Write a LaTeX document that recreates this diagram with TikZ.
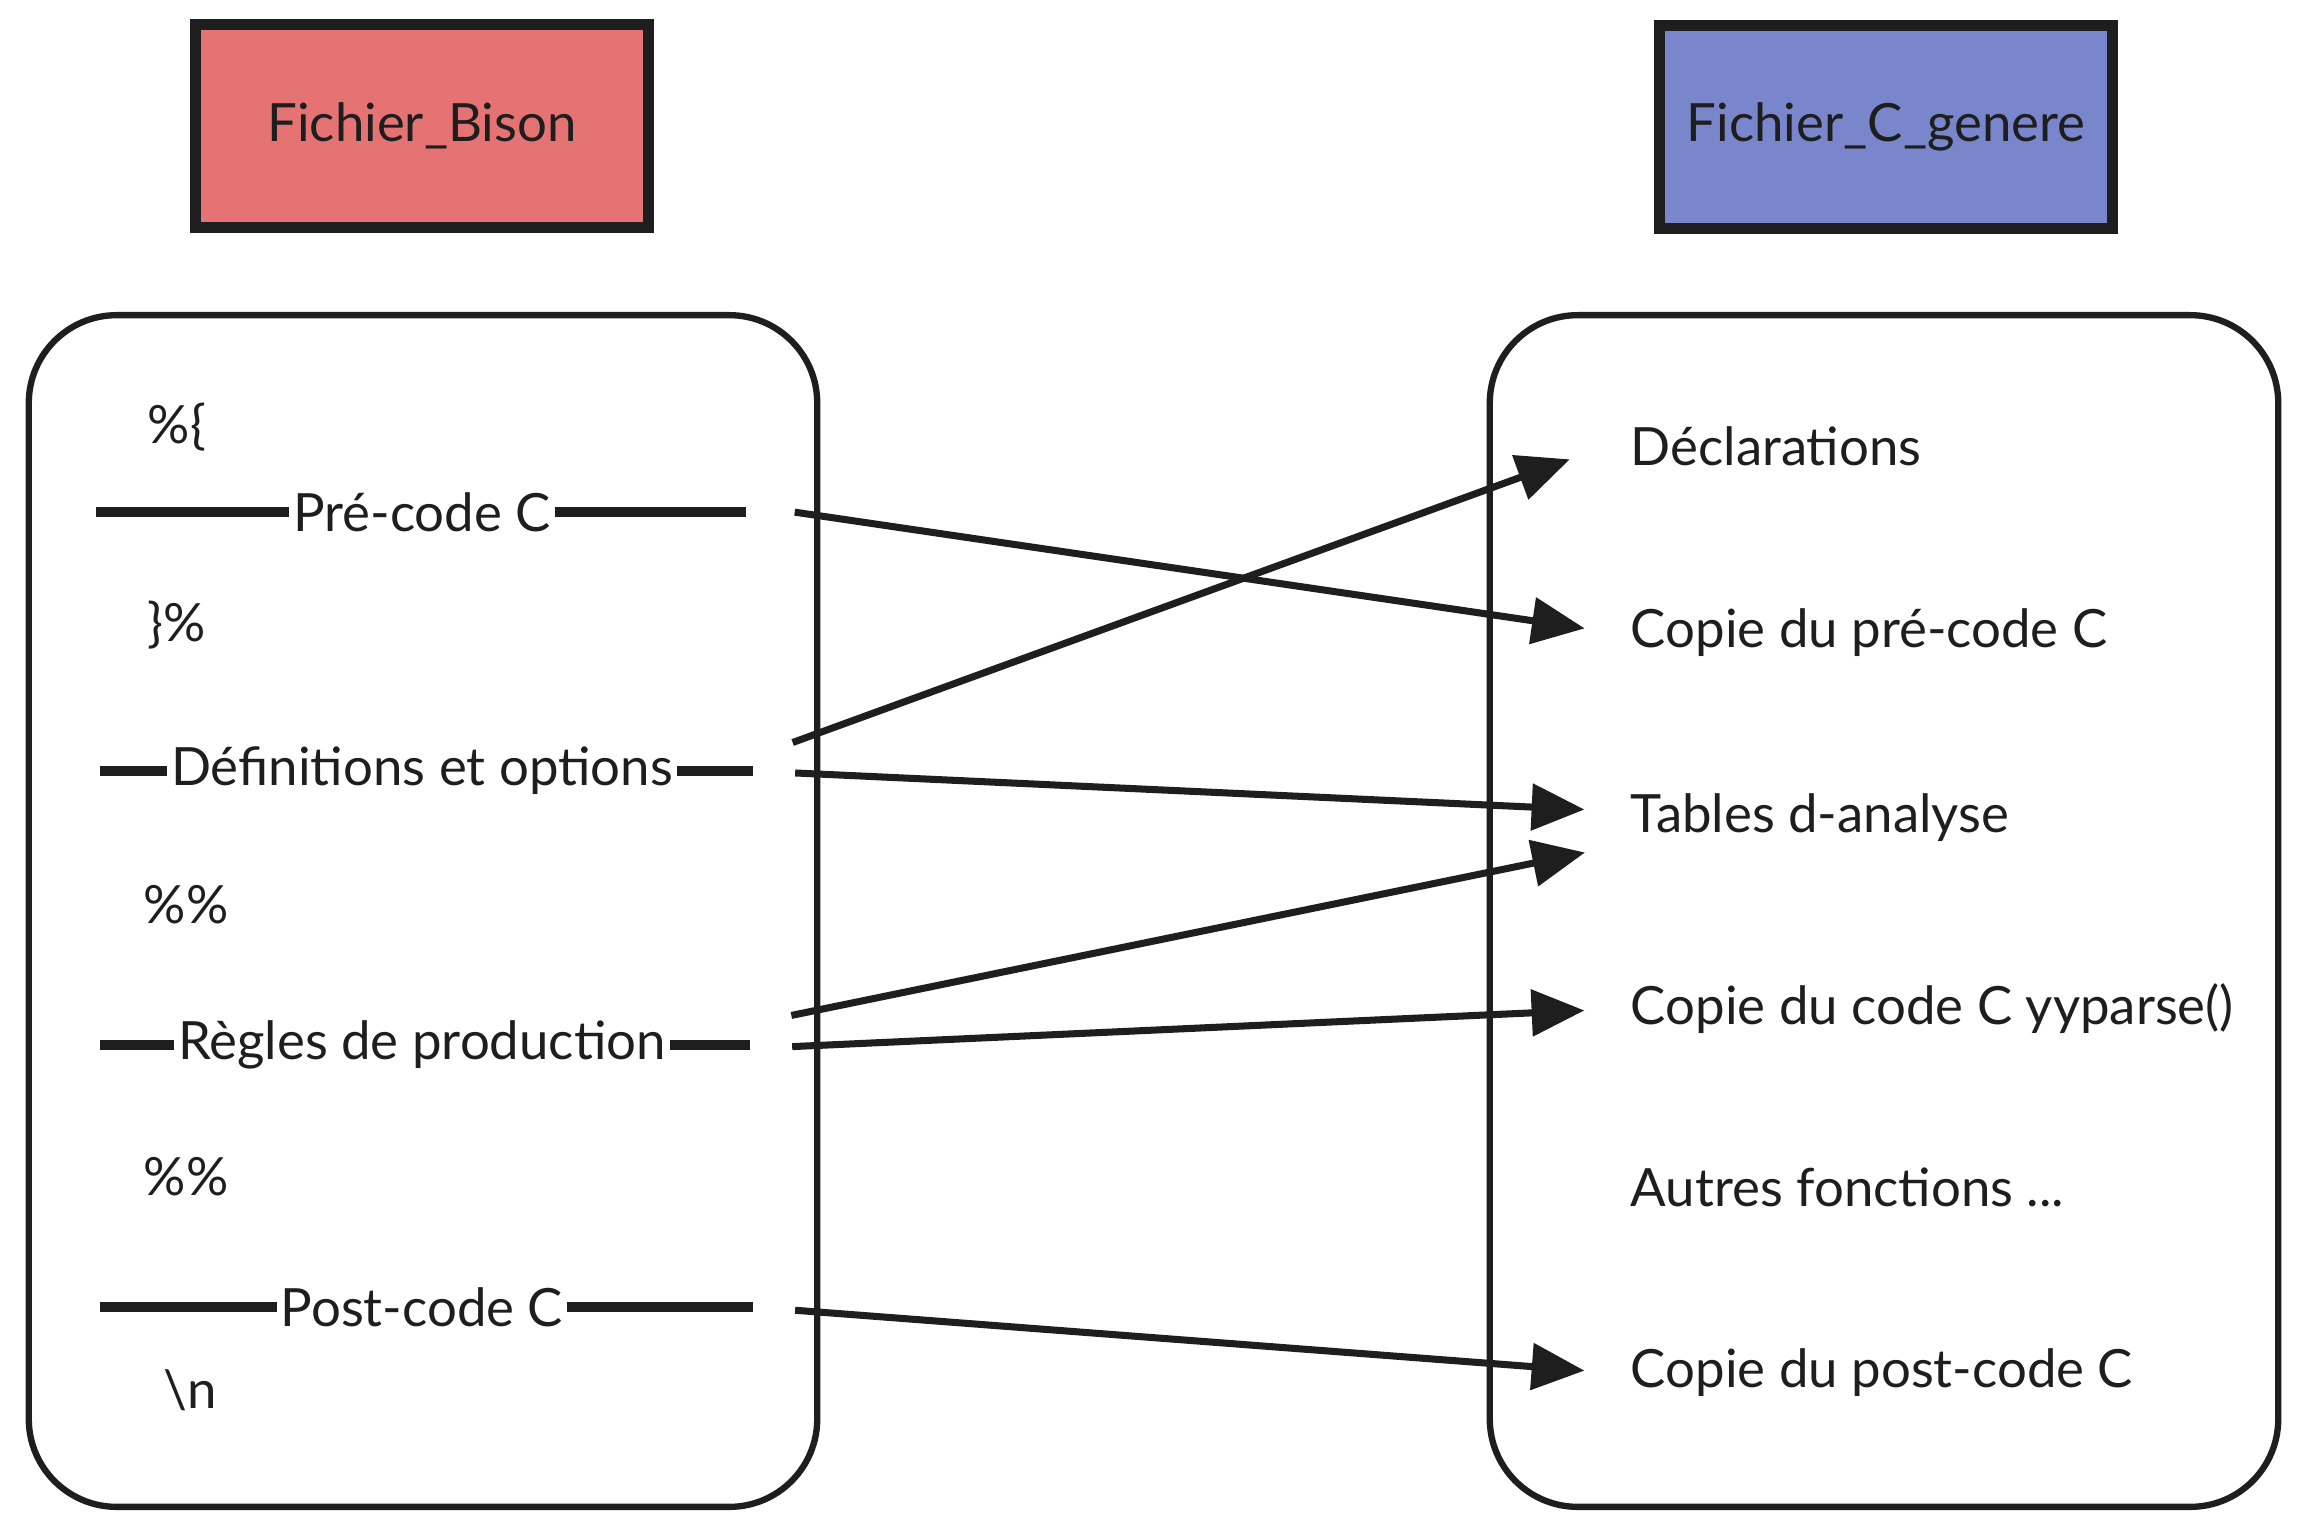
\documentclass[tikz,border=0pt]{standalone}
\usepackage{fontspec}
\setmainfont{Lato}
\usetikzlibrary{arrows.meta}
\definecolor{encre}{HTML}{1E1E1E}
\definecolor{rougebison}{HTML}{E57373}
\definecolor{bleugen}{HTML}{7986CB}

\begin{document}
\begin{tikzpicture}[x=0.01cm, y=-0.01cm, >={Triangle[length=15pt,width=13pt]},
    color=encre, font=\fontsize{15}{18}\selectfont,
    titre/.style={draw, line width=3pt, minimum width=4.53cm, minimum height=2.03cm},
    bloc/.style={draw, line width=1.8pt, rounded corners=25pt, minimum width=7.88cm, minimum height=11.91cm},
    code/.style={anchor=west, inner sep=0pt},
    section/.style={inner sep=1pt},
    trait/.style={line width=3pt},
    entree/.style={anchor=west, inner sep=4pt},
    fleche/.style={->, line width=2pt, shorten <=12pt, shorten >=9pt}]

\useasboundingbox (0,0) rectangle (2307,1536);

% Titres
\node[titre, fill=rougebison] (bison) at (422,126)  {Fichier\_Bison};
\node[titre, fill=bleugen]    (cgen)  at (1886,127) {Fichier\_C\_genere};

% Les deux fichiers
\node[bloc] (gauche) at (423,911)  {};
\node[bloc] (droite) at (1884,911) {};

% Contenu du fichier Bison
\node[code]    (ouv)   at (147,427)  {\%\{};
\node[section] (pre)   at (422,512)  {Pré-code C};
\node[code]    (ferm)  at (147,625)  {\}\%};
\node[section] (def)   at (422,771)  {Définitions et options};
\node[code]    (sep1)  at (143,905)  {\%\%};
\node[section] (regle) at (422,1045) {Règles de production};
\node[code]    (sep2)  at (143,1177) {\%\%};
\node[section] (post)  at (422,1307) {Post-code C};
\node[code]    (fin)   at (163,1390) {\textbackslash n};

% Bouts des traits
\coordinate (preG)   at (96,512);   \coordinate (preD)   at (746,512);
\coordinate (defG)   at (100,771);  \coordinate (defD)   at (753,771);
\coordinate (regleG) at (100,1045); \coordinate (regleD) at (750,1045);
\coordinate (postG)  at (100,1307); \coordinate (postD)  at (753,1307);

\draw[trait] (preG) -- (pre.west);     \draw[trait] (pre.east) -- (preD);
\draw[trait] (defG) -- (def.west);     \draw[trait] (def.east) -- (defD);
\draw[trait] (regleG) -- (regle.west); \draw[trait] (regle.east) -- (regleD);
\draw[trait] (postG) -- (post.west);   \draw[trait] (post.east) -- (postD);

% Contenu du fichier C genere
\node[entree] (decl)  at (1616,446)  {Déclarations};
\node[entree] (cpre)  at (1616,633)  {Copie du pré-code C};
\node[entree] (table) at (1616,818)  {Tables d-analyse};
\node[entree] (ccode) at (1616,1009) {Copie du code C yyparse()};
\node[entree] (autre) at (1616,1187) {Autres fonctions ...};
\node[entree] (cpost) at (1616,1373) {Copie du post-code C};

% Correspondances
\draw[fleche, shorten <=14pt] ([yshift=2pt]preD) -- (cpre.west);
\draw[fleche, shorten >=14pt] ([yshift=4pt]defD) -- ([yshift=1pt]decl.west);
\draw[fleche] (defD)               -- ([yshift=2pt]table.west);
\draw[fleche] ([yshift=6pt]regleD) -- ([yshift=-8pt]table.west);
\draw[fleche] ([yshift=-1pt]regleD) -- (ccode.west);
\draw[fleche] (postD)              -- (cpost.west);

\end{tikzpicture}
\end{document}
